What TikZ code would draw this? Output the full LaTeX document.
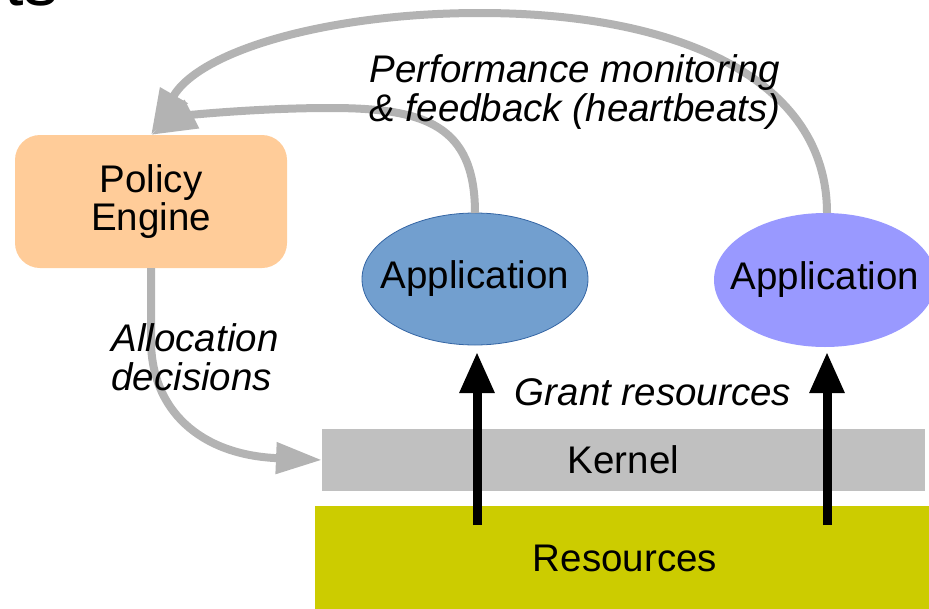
\documentclass[tikz,border=0pt]{standalone}
\usepackage{fontspec}
\setmainfont{Liberation Sans}
\usetikzlibrary{arrows.meta,shapes.geometric}

\definecolor{naranja}{HTML}{FFCC99}
\definecolor{azulapp}{HTML}{729FCF}
\definecolor{bordeapp}{HTML}{3465A4}
\definecolor{lilaapp}{HTML}{9999FF}
\definecolor{grisnucleo}{HTML}{C0C0C0}
\definecolor{amarillo}{HTML}{CCCC00}
\definecolor{grisflecha}{HTML}{B3B3B3}

\tikzset{
  texto/.style={font=\fontsize{38.5}{39}\selectfont},
  caja/.style={inner sep=0pt, outer sep=0pt},
  elipse/.style={ellipse, outer sep=0pt, inner xsep=-22pt, inner ysep=0pt},
  flechagris/.style={line width=8pt, color=grisflecha, -{Triangle[length=46pt,width=30pt]}},
  flechanegra/.style={line width=9pt, -{Triangle[length=41pt,width=33pt]}},
}

\begin{document}
\begin{tikzpicture}[x=1pt, y=1pt, texto]
	\useasboundingbox (0,0) rectangle (929,-608);

	% Resto del titulo (recortado arriba)
	\node[anchor=base west, inner sep=0pt, font=\fontsize{70}{70}\selectfont] (titulo) at (4,-5) {ts};

	% Capas: recursos y kernel
	\node[caja, fill=amarillo, minimum width=620pt, minimum height=104pt] (recursos) at (625,-558) {Resources};
	\node[caja, fill=grisnucleo, minimum width=603pt, minimum height=62pt] (kernel) at (623.5,-460) {Kernel};

	% Motor de politicas
	\node[caja, fill=naranja, rounded corners=25pt, minimum width=272pt, minimum height=133pt, align=center] (politica) at (151,-201.5) {\raisebox{-5pt}{\shortstack{Policy\\[-1pt]Engine}}};

	% Aplicaciones
	\node[elipse, fill=azulapp, draw=bordeapp, line width=0.8pt, minimum width=226pt, minimum height=132pt] (app1) at (475,-279) {Application};
	\node[elipse, fill=lilaapp, minimum width=222pt, minimum height=134pt] (app2) at (825,-280) {Application};

	% Concesion de recursos (flechas negras)
	\draw[flechanegra] ([xshift=2pt, yshift=-19pt]app1.south |- recursos.north) -- ([xshift=2pt, yshift=-7pt]app1.south);
	\draw[flechanegra] ([xshift=2pt, yshift=-19pt]app2.south |- recursos.north) -- ([xshift=2pt, yshift=-5pt]app2.south);
	\node[font=\fontsize{38.5}{39}\selectfont\itshape] (conceder) at (653,-392) {Grant resources};

	% Monitorizacion y realimentacion (flechas grises)
	\draw[flechagris] (app1.north) .. controls (475,-125) and (425,-108) .. (330,-108)
		.. controls (260,-108) and (190,-115) .. (politica.north);
	\draw[flechagris] ([xshift=2pt]app2.north) .. controls (827,-80) and (680,-13) .. (480,-13)
		.. controls (330,-13) and (200,-50) .. (politica.north);
	\node[align=center, font=\fontsize{38.5}{39}\selectfont\itshape] (monitor) at (575,-92) {Performance monitoring\\\& feedback (heartbeats)};

	% Decisiones de asignacion
	\draw[flechagris] (politica.south) -- (151,-340) .. controls (151,-410) and (200,-455) .. (kernel.west);
	\node[anchor=west, align=left, font=\fontsize{38.5}{39}\selectfont\itshape] (asignacion) at (108,-357) {Allocation\\decisions};

\end{tikzpicture}
\end{document}
